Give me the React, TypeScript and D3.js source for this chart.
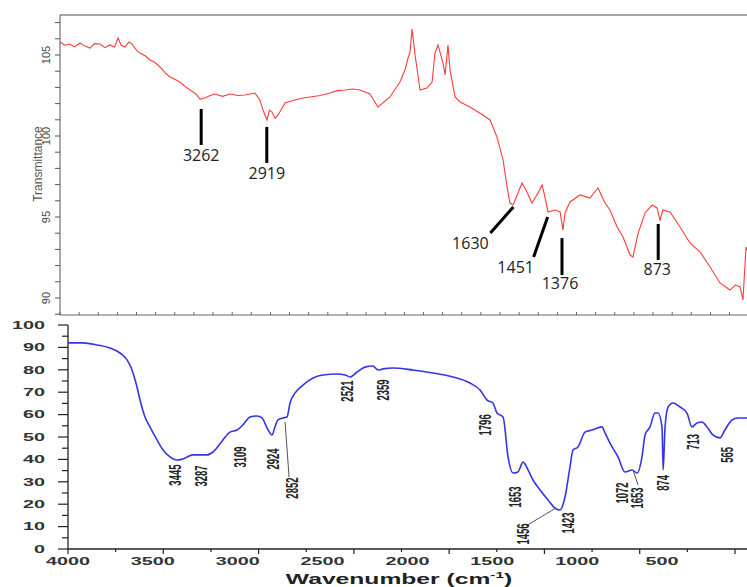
import * as d3 from "d3";

// top spectrum (red)
const redWn = [4000, 3975, 3948, 3925, 3895, 3870, 3843, 3820, 3791, 3765, 3739, 3715, 3697, 3680, 3660, 3640, 3624, 3600, 3582, 3555, 3530, 3505, 3477, 3450, 3425, 3400, 3373, 3345, 3320, 3290, 3268, 3242, 3215, 3190, 3150, 3111, 3070, 3033, 2981, 2955, 2939, 2918, 2905, 2892, 2875, 2860, 2839, 2824, 2772, 2730, 2693, 2640, 2589, 2550, 2510, 2470, 2432, 2380, 2338, 2275, 2223, 2197, 2181, 2170, 2160, 2144, 2118, 2082, 2055, 2040, 2024, 1998, 1987, 1972, 1961, 1935, 1909, 1857, 1789, 1752, 1737, 1716, 1684, 1663, 1648, 1632, 1606, 1585, 1559, 1533, 1501, 1480, 1465, 1449, 1412, 1386, 1371, 1360, 1334, 1282, 1230, 1188, 1151, 1125, 1088, 1057, 1020, 1005, 978, 942, 905, 879, 864, 848, 811, 759, 707, 654, 602, 550, 498, 470, 445, 430, 414, 405];
const redT = [105.8, 105.6, 105.68, 105.5, 105.74, 105.55, 105.43, 105.7, 105.68, 105.45, 105.62, 105.5, 106.05, 105.6, 105.49, 105.8, 105.68, 105.3, 105.12, 104.95, 104.69, 104.55, 104.26, 103.9, 103.64, 103.5, 103.33, 103.05, 102.84, 102.6, 102.28, 102.35, 102.5, 102.59, 102.45, 102.59, 102.5, 102.53, 102.65, 102.22, 101.6, 100.99, 101.6, 101.48, 101.1, 101.3, 101.73, 102.04, 102.22, 102.35, 102.41, 102.5, 102.65, 102.8, 102.84, 102.9, 102.84, 102.59, 101.79, 102.41, 103.33, 104.07, 104.8, 105.2, 106.6, 105.0, 102.84, 102.96, 103.33, 105.12, 105.62, 104.51, 103.77, 105.62, 104.07, 102.41, 102.1, 101.79, 101.3, 100.99, 100.56, 99.94, 98.52, 96.85, 95.86, 95.74, 96.48, 97.1, 96.54, 95.86, 96.48, 96.98, 96.23, 95.31, 95.43, 95.31, 94.2, 95.25, 95.93, 96.36, 96.17, 96.79, 95.86, 95.43, 94.38, 93.77, 92.65, 92.53, 94.01, 95.25, 95.74, 95.56, 94.81, 95.43, 95.31, 94.38, 93.4, 92.84, 91.91, 90.93, 90.49, 90.8, 90.68, 89.88, 93.15, 92.9];

// bottom spectrum (blue)
const blueWn = [4000, 3921, 3848, 3780, 3727, 3690, 3664, 3638, 3622, 3596, 3570, 3533, 3501, 3465, 3428, 3397, 3344, 3271, 3239, 3187, 3150, 3113, 3082, 3045, 3008, 2982, 2955, 2929, 2914, 2898, 2872, 2851, 2835, 2809, 2767, 2714, 2662, 2588, 2546, 2520, 2483, 2442, 2400, 2373, 2347, 2295, 2190, 2085, 1980, 1891, 1838, 1801, 1770, 1749, 1717, 1691, 1665, 1639, 1612, 1586, 1560, 1523, 1481, 1445, 1418, 1392, 1366, 1350, 1324, 1287, 1250, 1198, 1182, 1156, 1114, 1077, 1040, 1014, 988, 972, 946, 920, 904, 883, 877, 867, 851, 825, 788, 752, 726, 699, 673, 647, 616, 579, 553, 516, 485, 437];
const blueT = [92.0, 92.0, 91.1, 89.7, 87.5, 84.4, 79.9, 72.3, 66.5, 58.9, 54.5, 48.7, 44.2, 41.1, 39.7, 40.2, 42.0, 42.0, 43.3, 48.7, 52.2, 53.1, 55.4, 58.9, 59.4, 58.5, 54.0, 50.9, 54.5, 57.6, 58.5, 58.9, 65.2, 69.6, 73.2, 76.3, 77.7, 78.1, 77.7, 76.8, 79.0, 81.2, 81.7, 79.9, 80.4, 80.8, 79.9, 78.6, 76.8, 74.1, 71.0, 66.5, 65.2, 60.7, 58.9, 41.1, 33.9, 34.4, 38.8, 35.3, 30.8, 26.3, 21.9, 18.3, 17.4, 23.2, 36.6, 44.2, 45.5, 52.2, 53.1, 54.5, 51.8, 47.3, 41.1, 34.4, 35.3, 33.9, 41.1, 50.9, 54.5, 60.7, 60.7, 54.5, 35.3, 54.5, 63.4, 65.2, 63.4, 60.7, 54.5, 56.3, 56.7, 54.5, 50.9, 49.6, 53.1, 57.6, 58.5, 58.5];

// top peak markers
const topPeakLabels = ["3262", "2919", "1630", "1451", "1376", "873"];
const topPeakWn = [3262, 2919, 1630, 1451, 1376, 873];
const topPeakTip = [101.67, 100.56, 95.62, 95.0, 93.7, 94.57];
// leader end (px from tip) and label centre (px from tip)
const topLead = [[0, 36], [0, 36], [-23, 26], [-14, 40], [0, 37], [0, 36]];
const topText = [[0, 46], [0, 46], [-43, 36], [-32, 50], [-2, 45], [-1, 45]];

// bottom peak labels (rotated)
const botPeakLabels = ["3445", "3287", "3109", "2924", "2852", "2521", "2359", "1796", "1653", "1456", "1423", "1072", "1653", "874", "713", "565"];
const botLabelWn = [3439, 3302, 3097, 2924, 2825, 2536, 2347, 1812, 1654, 1612, 1376, 1093, 1014, 878, 720, 542];
const botLabelT = [33.0, 32.6, 41.1, 40.2, 27.2, 70.5, 71.0, 55.4, 23.2, 6.7, 11.6, 25.0, 22.8, 29.5, 47.8, 42.0];
const botLeaders = [
  [2861, 56.7, 2840, 32.1],
  [1597, 10.3, 1439, 18.3],
  [1035, 35.3, 1009, 28.6],
];

const topYTicks = [90, 95, 100, 105];
const botXTicks = [4000, 3500, 3000, 2500, 2000, 1500, 1000, 500];
const botYTicks = [0, 10, 20, 30, 40, 50, 60, 70, 80, 90, 100];

const W = 747;
const H = 587;
const SX = 1.8; // bottom figure is stretched sideways

export default function App() {
  const xTop = d3.scaleLinear().domain([4000, 400]).range([60, 748.7]);
  const yTop = d3.scaleLinear().domain([90, 105]).range([298, 55]);
  const xBot = d3.scaleLinear().domain([4000, 500]).range([68, 735]);
  const xLab = d3.scaleLinear().domain([4000, 500]).range([68, 662]);
  const yBot = d3.scaleLinear().domain([0, 100]).range([549, 325]);

  const redLine = d3
    .line<number>()
    .x((_d, i) => xTop(redWn[i]))
    .y((_d, i) => yTop(redT[i]));
  const blueLine = d3
    .line<number>()
    .x((_d, i) => xBot(blueWn[i]))
    .y((_d, i) => yBot(blueT[i]))
    .curve(d3.curveMonotoneX);

  const topMinor = d3.range(89, 108, 1);
  const topXMinor = d3.range(4000, 399, -100);
  const botXMinor = d3.range(4000, 399, -250);
  const botYMinor = d3.range(0, 101, 5);

  return (
    <svg width={W} height={H} style={{ position: "absolute", left: 0, top: 0, background: "#fff" }}>
      {/* top panel */}
      <line x1={60} x2={W} y1={15} y2={15} stroke="#888" strokeWidth={1.5} />
      <line x1={60} x2={60} y1={15} y2={315} stroke="#555" strokeWidth={1} />
      <line x1={60} x2={W} y1={315} y2={315} stroke="#666" strokeWidth={1.2} />
      {topMinor.map((v) => (
        <line key={"tm" + v} x1={55} x2={60} y1={yTop(v)} y2={yTop(v)} stroke="#555" />
      ))}
      {topXMinor.map((v) => (
        <line key={"tx" + v} x1={xTop(v)} x2={xTop(v)} y1={312} y2={315} stroke="#666" />
      ))}
      {topYTicks.map((v) => (
        <text
          key={"ty" + v}
          transform={`translate(50,${yTop(v)}) rotate(-90)`}
          textAnchor="middle"
          fontFamily="Liberation Sans, Arial, sans-serif"
          fontSize={11}
          fill="#444"
        >
          {v}
        </text>
      ))}
      <text
        transform="translate(42,164) rotate(-90)"
        textAnchor="middle"
        fontFamily="Liberation Sans, Arial, sans-serif"
        fontSize={12}
        fill="#555"
      >
        Transmittance
      </text>
      <path d={String(redLine(redWn))} fill="none" stroke="#ff3b3b" strokeWidth={1.1} />
      {topPeakLabels.map((lab, i) => {
        const x = xTop(topPeakWn[i]);
        const y = yTop(topPeakTip[i]);
        return (
          <g key={"tp" + i}>
            <line x1={x} y1={y} x2={x + topLead[i][0]} y2={y + topLead[i][1]} stroke="#000" strokeWidth={3} />
            <text
              x={x + topText[i][0]}
              y={y + topText[i][1]}
              dy="0.35em"
              textAnchor="middle"
              fontFamily="Open Sans, Noto Sans, sans-serif"
              fontSize={16}
              fill="#222"
            >
              {lab}
            </text>
          </g>
        );
      })}

      {/* bottom panel */}
      <line x1={68} x2={68} y1={yBot(100)} y2={yBot(0)} stroke="#222" strokeWidth={1.3} />
      <line x1={68} x2={W} y1={yBot(0)} y2={yBot(0)} stroke="#222" strokeWidth={1.3} />
      {botYMinor.map((v) => (
        <line
          key={"by" + v}
          x1={v % 10 === 0 ? 58 : 62}
          x2={68}
          y1={yBot(v)}
          y2={yBot(v)}
          stroke="#222"
          strokeWidth={1.2}
        />
      ))}
      {botXMinor.map((v) => (
        <line
          key={"bx" + v}
          x1={xBot(v)}
          x2={xBot(v)}
          y1={yBot(0)}
          y2={yBot(0) + (v % 500 === 0 ? 5 : 3)}
          stroke="#222"
          strokeWidth={1.2}
        />
      ))}
      {botYTicks.map((v) => (
        <text
          key={"byl" + v}
          transform={`translate(45,${yBot(v)}) scale(${SX},1)`}
          dy="0.35em"
          textAnchor="end"
          fontFamily="Liberation Sans, Arial, sans-serif"
          fontWeight="bold"
          fontSize={11}
          fill="#333"
        >
          {v}
        </text>
      ))}
      {botXTicks.map((v) => (
        <text
          key={"bxl" + v}
          transform={`translate(${xLab(v)},565) scale(${SX},1)`}
          textAnchor="middle"
          fontFamily="Liberation Sans, Arial, sans-serif"
          fontWeight="bold"
          fontSize={11}
          fill="#333"
        >
          {v}
        </text>
      ))}
      <text
        transform={`translate(399,584) scale(1.7,1)`}
        textAnchor="middle"
        fontFamily="Liberation Sans, Arial, sans-serif"
        fontWeight="bold"
        fontSize={14.5}
        fill="#222"
      >
        Wavenumber (cm
        <tspan fontSize={9} dy={-6}>-1</tspan>
        <tspan dy={6}>)</tspan>
      </text>
      <path d={String(blueLine(blueWn))} fill="none" stroke="#3535e8" strokeWidth={1.6} />
      {botLeaders.map((l, i) => (
        <line
          key={"bl" + i}
          x1={xBot(l[0])}
          y1={yBot(l[1])}
          x2={xBot(l[2])}
          y2={yBot(l[3])}
          stroke="#555"
          strokeWidth={1}
        />
      ))}
      {botPeakLabels.map((lab, i) => (
        <text
          key={"bp" + i}
          transform={`translate(${xBot(botLabelWn[i])},${yBot(botLabelT[i])}) scale(${SX},1) rotate(-90)`}
          dy="0.35em"
          textAnchor="middle"
          fontFamily="Liberation Sans, Arial, sans-serif"
          fontWeight="bold"
          fontSize={9.5}
          fill="#222"
        >
          {lab}
        </text>
      ))}
    </svg>
  );
}
